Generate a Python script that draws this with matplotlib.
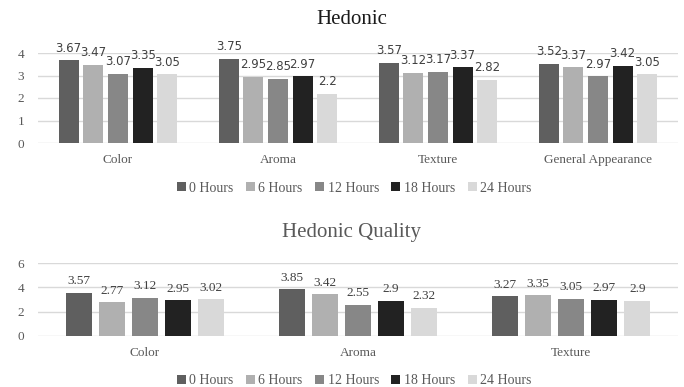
import numpy as np
import matplotlib
matplotlib.use("Agg")
import matplotlib.pyplot as plt

series = ["0 Hours", "6 Hours", "12 Hours", "18 Hours", "24 Hours"]
colors = ["#5f5f5f", "#b0b0b0", "#878787", "#222222", "#d9d9d9"]

hed_cats = ["Color", "Aroma", "Texture", "General Appearance"]
hed_vals = [
    [3.67, 3.75, 3.57, 3.52],
    [3.47, 2.95, 3.12, 3.37],
    [3.07, 2.85, 3.17, 2.97],
    [3.35, 2.97, 3.37, 3.42],
    [3.05, 2.2, 2.82, 3.05],
]

hq_cats = ["Color", "Aroma", "Texture"]
hq_vals = [
    [3.57, 3.85, 3.27],
    [2.77, 3.42, 3.35],
    [3.12, 2.55, 3.05],
    [2.95, 2.9, 2.97],
    [3.02, 2.32, 2.9],
]

W, H = 684, 387
fig = plt.figure(figsize=(W / 100, H / 100), dpi=100)
serif = "Liberation Serif"
grid_c = "#d9d9d9"
txt_c = "#595959"


def panel(rect, cats, vals, ymax, step, pitch, bw, lab_font, lab_size):
    ax = fig.add_axes([rect[0] / W, rect[1] / H, rect[2] / W, rect[3] / H])
    x = np.arange(len(cats))
    for i, (s, c) in enumerate(zip(series, colors)):
        off = (i - 2) * pitch
        bars = ax.bar(x + off, vals[i], width=bw, color=c, label=s, zorder=3)
        ax.bar_label(bars, labels=[f"{v:g}" for v in vals[i]], padding=4,
                     fontsize=lab_size, color="#404040", family=lab_font)
    ax.set_xlim(-0.5, len(cats) - 0.5)
    ax.set_ylim(0, ymax)
    ax.set_yticks(np.arange(0, ymax + 0.01, step))
    ax.yaxis.grid(True, color=grid_c, lw=1, zorder=0)
    ax.set_xticks(x)
    ax.set_xticklabels(cats, family=serif, fontsize=9.5, color=txt_c)
    ax.tick_params(length=0, pad=8)
    ax.tick_params(axis="y", pad=10)
    for t in ax.get_yticklabels():
        t.set_family(serif)
        t.set_fontsize(9.5)
        t.set_color(txt_c)
    for sp in ax.spines.values():
        sp.set_visible(False)
    return ax


ax1 = panel([38, 244, 640, 90], hed_cats, hed_vals, 4, 1, 0.154, 0.124,
            "DejaVu Sans", 8.5)
ax2 = panel([38, 51, 640, 73], hq_cats, hq_vals, 6, 2, 0.155, 0.122,
            serif, 9.5)

fig.text(352 / W, 1 - 20 / H, "Hedonic", ha="center", va="center",
         family=serif, fontsize=15, color="#1a1a1a")
fig.text(352 / W, 1 - 233 / H, "Hedonic Quality", ha="center", va="center",
         family=serif, fontsize=15, color=txt_c)

for ax, ypix in [(ax1, 188), (ax2, 381)]:
    h, l = ax.get_legend_handles_labels()
    fig.legend(h, l, loc="center", bbox_to_anchor=(354 / W, 1 - ypix / H),
               ncol=5, frameon=False, handlelength=0.65, handleheight=0.65,
               handletextpad=0.25, columnspacing=0.9,
               prop={"family": serif, "size": 10}, labelcolor=txt_c)

fig.savefig("out.png", dpi=100)
